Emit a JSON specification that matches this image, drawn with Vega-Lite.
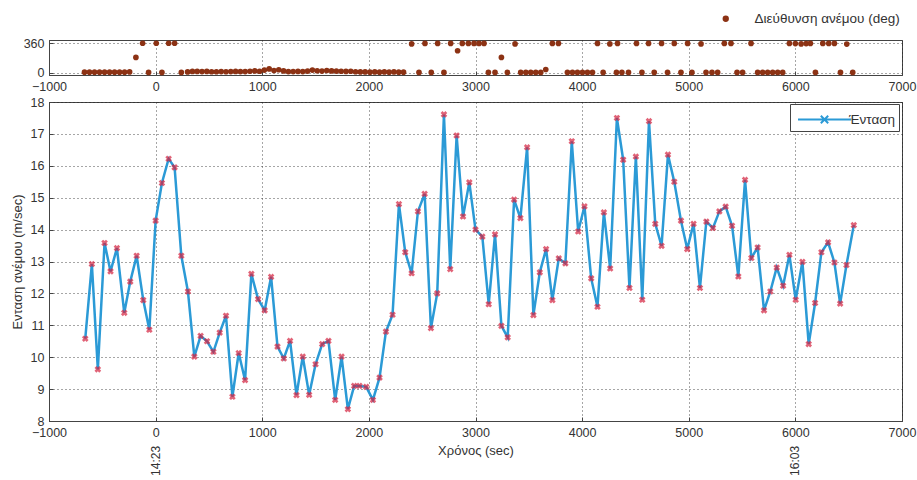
{
  "$schema": "https://vega.github.io/schema/vega-lite/v6.json",
  "padding": {"top": 11, "left": 10, "right": 0, "bottom": 0},
  "background": "white",
  "config": {
    "font": "Liberation Sans",
    "view": {"stroke": "#444", "strokeWidth": 1},
    "axis": {
      "labelFont": "Liberation Sans", "labelFontSize": 12.5, "labelColor": "#333", "labelOverlap": false, "format": "d",
      "titleFont": "Liberation Sans", "titleFontSize": 13, "titleColor": "#333", "titleFontWeight": "normal",
      "domainColor": "#444", "tickColor": "#444", "gridColor": "#222", "gridDash": [1, 3], "gridOpacity": 0.8,
      "tickSize": -4, "labelPadding": 9, "labelFlush": false
    },
    "legend": {"labelFont": "Liberation Sans", "labelFontSize": 13.5, "labelColor": "#333"}
  },
  "datasets": {
    "dir": [
      {"t": -667, "deg": 5}, {"t": -620, "deg": 5}, {"t": -573, "deg": 5}, {"t": -526, "deg": 5}, {"t": -479, "deg": 5},
      {"t": -432, "deg": 5}, {"t": -385, "deg": 5}, {"t": -338, "deg": 5}, {"t": -291, "deg": 5}, {"t": -244, "deg": 8},
      {"t": -185, "deg": 186}, {"t": -122, "deg": 360}, {"t": -66, "deg": 2}, {"t": 6, "deg": 360}, {"t": 59, "deg": 2},
      {"t": 122, "deg": 360}, {"t": 178, "deg": 360}, {"t": 241, "deg": 2},
      {"t": 300, "deg": 8}, {"t": 345, "deg": 14}, {"t": 390, "deg": 14}, {"t": 435, "deg": 12}, {"t": 480, "deg": 14},
      {"t": 525, "deg": 10}, {"t": 570, "deg": 10}, {"t": 615, "deg": 12}, {"t": 660, "deg": 10}, {"t": 705, "deg": 12},
      {"t": 750, "deg": 14}, {"t": 795, "deg": 12}, {"t": 840, "deg": 12}, {"t": 885, "deg": 16}, {"t": 930, "deg": 20},
      {"t": 975, "deg": 16}, {"t": 1020, "deg": 30}, {"t": 1065, "deg": 45}, {"t": 1110, "deg": 25}, {"t": 1155, "deg": 35},
      {"t": 1200, "deg": 20}, {"t": 1245, "deg": 12}, {"t": 1290, "deg": 12}, {"t": 1335, "deg": 14}, {"t": 1380, "deg": 12},
      {"t": 1425, "deg": 18}, {"t": 1470, "deg": 30}, {"t": 1515, "deg": 22}, {"t": 1560, "deg": 18}, {"t": 1605, "deg": 25},
      {"t": 1650, "deg": 20}, {"t": 1695, "deg": 18}, {"t": 1740, "deg": 16}, {"t": 1785, "deg": 14}, {"t": 1830, "deg": 16},
      {"t": 1875, "deg": 10}, {"t": 1920, "deg": 8}, {"t": 1965, "deg": 8}, {"t": 2010, "deg": 5}, {"t": 2055, "deg": 8},
      {"t": 2100, "deg": 5}, {"t": 2145, "deg": 8}, {"t": 2190, "deg": 5}, {"t": 2235, "deg": 8}, {"t": 2280, "deg": 5},
      {"t": 2325, "deg": 5}, {"t": 2401, "deg": 352}, {"t": 2470, "deg": 2}, {"t": 2526, "deg": 358}, {"t": 2585, "deg": 2},
      {"t": 2645, "deg": 358}, {"t": 2704, "deg": 2}, {"t": 2767, "deg": 358}, {"t": 2832, "deg": 268}, {"t": 2876, "deg": 358},
      {"t": 2933, "deg": 358}, {"t": 2986, "deg": 358}, {"t": 3033, "deg": 358}, {"t": 3080, "deg": 358},
      {"t": 3121, "deg": 2}, {"t": 3183, "deg": 2}, {"t": 3243, "deg": 186}, {"t": 3299, "deg": 2}, {"t": 3371, "deg": 352},
      {"t": 3424, "deg": 2}, {"t": 3472, "deg": 2}, {"t": 3518, "deg": 2}, {"t": 3565, "deg": 2}, {"t": 3612, "deg": 2},
      {"t": 3659, "deg": 37}, {"t": 3721, "deg": 358}, {"t": 3778, "deg": 358},
      {"t": 3862, "deg": 2}, {"t": 3909, "deg": 2}, {"t": 3956, "deg": 2}, {"t": 4003, "deg": 2}, {"t": 4050, "deg": 2},
      {"t": 4097, "deg": 2}, {"t": 4144, "deg": 358}, {"t": 4197, "deg": 2}, {"t": 4260, "deg": 352}, {"t": 4322, "deg": 2},
      {"t": 4332, "deg": 358}, {"t": 4373, "deg": 2}, {"t": 4435, "deg": 2}, {"t": 4510, "deg": 358}, {"t": 4561, "deg": 2},
      {"t": 4623, "deg": 358}, {"t": 4676, "deg": 2}, {"t": 4745, "deg": 358}, {"t": 4801, "deg": 2}, {"t": 4864, "deg": 358},
      {"t": 4927, "deg": 2}, {"t": 4989, "deg": 358}, {"t": 5030, "deg": 2}, {"t": 5115, "deg": 352}, {"t": 5162, "deg": 2},
      {"t": 5218, "deg": 2}, {"t": 5271, "deg": 2}, {"t": 5334, "deg": 358}, {"t": 5396, "deg": 358}, {"t": 5453, "deg": 2},
      {"t": 5505, "deg": 2}, {"t": 5584, "deg": 358}, {"t": 5646, "deg": 2}, {"t": 5693, "deg": 2}, {"t": 5740, "deg": 2},
      {"t": 5787, "deg": 2}, {"t": 5834, "deg": 2}, {"t": 5881, "deg": 2}, {"t": 5944, "deg": 358}, {"t": 6000, "deg": 356},
      {"t": 6054, "deg": 352}, {"t": 6101, "deg": 356}, {"t": 6141, "deg": 358}, {"t": 6188, "deg": 2}, {"t": 6257, "deg": 358},
      {"t": 6313, "deg": 358}, {"t": 6366, "deg": 358}, {"t": 6423, "deg": 2}, {"t": 6482, "deg": 350}, {"t": 6538, "deg": 2}
    ],
    "speed": [
      {"t": -660, "v": 10.58}, {"t": -598, "v": 12.92}, {"t": -542, "v": 9.62}, {"t": -479, "v": 13.58}, {"t": -423, "v": 12.69},
      {"t": -363, "v": 13.42}, {"t": -294, "v": 11.39}, {"t": -238, "v": 12.37}, {"t": -178, "v": 13.18}, {"t": -116, "v": 11.79},
      {"t": -59, "v": 10.86}, {"t": 0, "v": 14.28}, {"t": 59, "v": 15.46}, {"t": 122, "v": 16.22}, {"t": 178, "v": 15.95},
      {"t": 241, "v": 13.18}, {"t": 303, "v": 12.06}, {"t": 363, "v": 10.02}, {"t": 422, "v": 10.67}, {"t": 482, "v": 10.5},
      {"t": 542, "v": 10.17}, {"t": 601, "v": 10.77}, {"t": 660, "v": 11.3}, {"t": 720, "v": 8.76}, {"t": 779, "v": 10.13},
      {"t": 839, "v": 9.28}, {"t": 898, "v": 12.61}, {"t": 961, "v": 11.82}, {"t": 1023, "v": 11.47}, {"t": 1083, "v": 12.52},
      {"t": 1143, "v": 10.33}, {"t": 1202, "v": 9.96}, {"t": 1261, "v": 10.51}, {"t": 1321, "v": 8.81}, {"t": 1380, "v": 10.02},
      {"t": 1440, "v": 8.82}, {"t": 1500, "v": 9.78}, {"t": 1562, "v": 10.41}, {"t": 1621, "v": 10.51}, {"t": 1684, "v": 8.66},
      {"t": 1744, "v": 10.02}, {"t": 1803, "v": 8.37}, {"t": 1862, "v": 9.1}, {"t": 1912, "v": 9.1}, {"t": 1975, "v": 9.07},
      {"t": 2038, "v": 8.66}, {"t": 2100, "v": 9.36}, {"t": 2160, "v": 10.8}, {"t": 2222, "v": 11.33}, {"t": 2282, "v": 14.8},
      {"t": 2341, "v": 13.29}, {"t": 2401, "v": 12.63}, {"t": 2460, "v": 14.57}, {"t": 2523, "v": 15.12}, {"t": 2582, "v": 10.91},
      {"t": 2641, "v": 12.0}, {"t": 2704, "v": 17.61}, {"t": 2763, "v": 12.76}, {"t": 2823, "v": 16.95}, {"t": 2883, "v": 14.41},
      {"t": 2942, "v": 15.48}, {"t": 3000, "v": 14.0}, {"t": 3064, "v": 13.78}, {"t": 3124, "v": 11.66}, {"t": 3183, "v": 13.85},
      {"t": 3243, "v": 10.98}, {"t": 3302, "v": 10.62}, {"t": 3362, "v": 14.94}, {"t": 3421, "v": 14.36}, {"t": 3484, "v": 16.58},
      {"t": 3543, "v": 11.32}, {"t": 3603, "v": 12.66}, {"t": 3662, "v": 13.39}, {"t": 3721, "v": 11.79}, {"t": 3781, "v": 13.1},
      {"t": 3843, "v": 12.94}, {"t": 3903, "v": 16.77}, {"t": 3963, "v": 13.94}, {"t": 4022, "v": 14.73}, {"t": 4085, "v": 12.47},
      {"t": 4144, "v": 11.58}, {"t": 4204, "v": 14.54}, {"t": 4263, "v": 12.78}, {"t": 4326, "v": 17.5}, {"t": 4385, "v": 16.19},
      {"t": 4444, "v": 12.17}, {"t": 4504, "v": 16.29}, {"t": 4564, "v": 11.8}, {"t": 4627, "v": 17.4}, {"t": 4686, "v": 14.18},
      {"t": 4745, "v": 13.49}, {"t": 4805, "v": 16.35}, {"t": 4864, "v": 15.5}, {"t": 4927, "v": 14.28}, {"t": 4986, "v": 13.39},
      {"t": 5045, "v": 14.18}, {"t": 5105, "v": 12.17}, {"t": 5165, "v": 14.25}, {"t": 5227, "v": 14.05}, {"t": 5287, "v": 14.57},
      {"t": 5346, "v": 14.72}, {"t": 5406, "v": 14.12}, {"t": 5465, "v": 12.53}, {"t": 5528, "v": 15.56}, {"t": 5587, "v": 13.11},
      {"t": 5646, "v": 13.44}, {"t": 5706, "v": 11.47}, {"t": 5765, "v": 12.06}, {"t": 5825, "v": 12.81}, {"t": 5885, "v": 12.24},
      {"t": 5944, "v": 13.21}, {"t": 6003, "v": 11.8}, {"t": 6066, "v": 12.99}, {"t": 6125, "v": 10.41}, {"t": 6185, "v": 11.7},
      {"t": 6244, "v": 13.29}, {"t": 6307, "v": 13.6}, {"t": 6366, "v": 12.97}, {"t": 6420, "v": 11.68}, {"t": 6479, "v": 12.89},
      {"t": 6548, "v": 14.14}
    ],
    "clock": [{"t": 0, "label": "14:23"}, {"t": 6000, "label": "16:03"}]
  },
  "resolve": {"scale": {"color": "independent"}, "legend": {"color": "independent"}},
  "spacing": 2,
  "vconcat": [
    {
      "width": 853, "height": 35,
      "data": {"name": "dir"},
      "mark": {"type": "circle", "size": 32, "opacity": 1},
      "encoding": {
        "x": {"field": "t", "type": "quantitative", "scale": {"domain": [-1000, 7000], "nice": false},
              "axis": {"title": null, "values": [-1000, 0, 1000, 2000, 3000, 4000, 5000, 6000, 7000], "grid": true}},
        "y": {"field": "deg", "type": "quantitative", "scale": {"domain": [-30, 400], "nice": false, "zero": false},
              "axis": {"title": null, "values": [0, 360], "grid": true}},
        "color": {"datum": "Διεύθυνση ανέμου (deg)", "type": "nominal",
                  "scale": {"range": ["#8c3214"]},
                  "legend": {"title": null, "orient": "none", "legendX": 670, "legendY": -28, "symbolType": "circle", "symbolSize": 40, "labelOffset": 22}}
      }
    },
    {
      "width": 853, "height": 319,
      "layer": [
        {
          "data": {"name": "speed"},
          "mark": {"type": "line", "strokeWidth": 2.5, "color": "#2b9ad6"},
          "encoding": {
            "x": {"field": "t", "type": "quantitative", "scale": {"domain": [-1000, 7000], "nice": false},
                  "axis": {"title": "Χρόνος (sec)", "values": [-1000, 0, 1000, 2000, 3000, 4000, 5000, 6000, 7000], "grid": true, "titlePadding": 6}},
            "y": {"field": "v", "type": "quantitative", "scale": {"domain": [8, 18], "nice": false, "zero": false},
                  "axis": {"title": "Ενταση ανέμου (m/sec)", "values": [8, 9, 10, 11, 12, 13, 14, 15, 16, 17, 18], "grid": true, "titlePadding": 6}},
            "color": {"datum": "Ένταση", "type": "nominal", "scale": {"range": ["#2b9ad6"]},
                      "legend": {"title": null, "orient": "none", "legendX": 741, "legendY": 2, "padding": 3, "strokeColor": "#444", "fillColor": "white",
                                 "symbolType": "M-0.67,0H4.1M1.37,-0.33L2.03,0.33M1.37,0.33L2.03,-0.33", "symbolSize": 500, "symbolStrokeWidth": 2, "labelOffset": 31}}
          }
        },
        {
          "data": {"name": "speed"},
          "mark": {"type": "point", "shape": "cross", "angle": 45, "size": 45, "color": "#d4213d", "filled": true, "strokeWidth": 0},
          "encoding": {
            "x": {"field": "t", "type": "quantitative", "axis": {"title": "Χρόνος (sec)", "values": [-1000, 0, 1000, 2000, 3000, 4000, 5000, 6000, 7000], "grid": true, "titlePadding": 6}},
            "y": {"field": "v", "type": "quantitative", "axis": {"title": "Ενταση ανέμου (m/sec)", "values": [8, 9, 10, 11, 12, 13, 14, 15, 16, 17, 18], "grid": true, "titlePadding": 6}}
          }
        },
        {
          "data": {"name": "clock"},
          "mark": {"type": "text", "angle": 270, "align": "right", "baseline": "middle", "fontSize": 12, "color": "#333", "clip": false},
          "encoding": {
            "x": {"field": "t", "type": "quantitative", "axis": {"title": "Χρόνος (sec)", "values": [-1000, 0, 1000, 2000, 3000, 4000, 5000, 6000, 7000], "grid": true, "titlePadding": 6}},
            "y": {"datum": 7.22, "axis": {"title": "Ενταση ανέμου (m/sec)", "values": [8, 9, 10, 11, 12, 13, 14, 15, 16, 17, 18], "grid": true, "titlePadding": 6}},
            "text": {"field": "label"}
          }
        }
      ]
    }
  ]
}
